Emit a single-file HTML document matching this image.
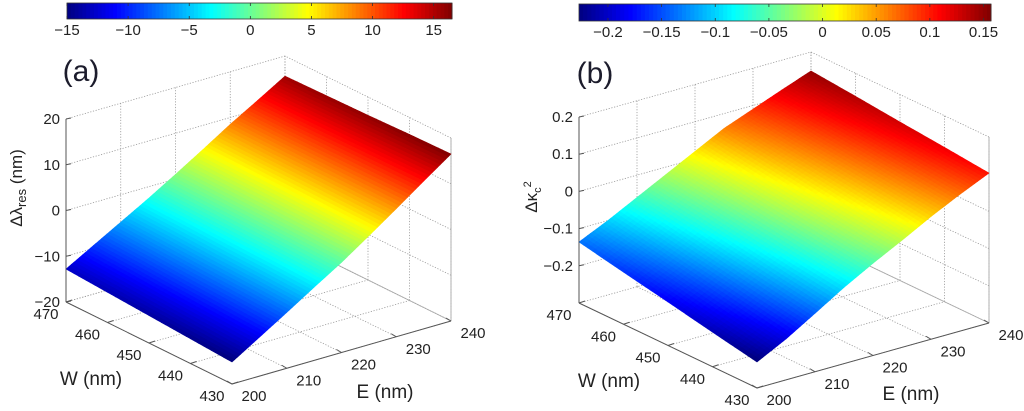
<!DOCTYPE html>
<html><head><meta charset="utf-8"><style>
html,body{margin:0;padding:0;background:#fff;width:1024px;height:411px;overflow:hidden}
svg{display:block;font-family:"Liberation Sans",sans-serif}
</style></head><body>
<svg id="fig" width="1024" height="411" viewBox="0 0 1024 411" xmlns="http://www.w3.org/2000/svg"></svg>
<script>
// ---- data ----
const eVals = [200,205,210,215,220,225,230,235,240];
const wVals = [430,440,450,460,470];
const zA = [
  [-15.2,-11.5,-7.8,-4.0,-0.3,3.8,8.0,12.3,16.5],
  [-14.6,-11.0,-7.3,-3.6,0.1,4.0,8.1,12.2,16.3],
  [-14.0,-10.5,-6.9,-3.3,0.4,4.3,8.2,12.1,16.0],
  [-13.4,-9.9,-6.4,-2.9,0.7,4.5,8.3,12.0,15.8],
  [-12.8,-9.4,-6.0,-2.6,1.0,4.7,8.5,12.0,15.6]
];
const zB = [
  [-0.230,-0.190,-0.143,-0.095,-0.052,-0.012,0.030,0.068,0.103],
  [-0.207,-0.168,-0.123,-0.079,-0.034,0.006,0.045,0.081,0.115],
  [-0.183,-0.145,-0.102,-0.060,-0.016,0.024,0.060,0.094,0.126],
  [-0.160,-0.122,-0.081,-0.040,0.002,0.042,0.075,0.107,0.138],
  [-0.136,-0.100,-0.060,-0.020,0.020,0.060,0.090,0.120,0.149]
];
const zTicksA = [-20,-10,0,10,20];
const zTicksB = [-0.2,-0.1,0,0.1,0.2];
const wTicks = [430,440,450,460,470];
const eTicks = [200,210,220,230,240];
const cbTicksA = [-15,-10,-5,0,5,10,15];
const cbTicksB = [-0.2,-0.15,-0.1,-0.05,0,0.05,0.1,0.15];

const NS = "http://www.w3.org/2000/svg";
const svg = document.getElementById('fig');
function mk(tag, attrs, parent){const el=document.createElementNS(NS,tag);for(const k in attrs)el.setAttribute(k,attrs[k]);(parent||svg).appendChild(el);return el;}
function jet(t){t=Math.max(0,Math.min(1,t));
  const r=Math.max(0,Math.min(1,1.5-Math.abs(4*t-3)));
  const g=Math.max(0,Math.min(1,1.5-Math.abs(4*t-2)));
  const b=Math.max(0,Math.min(1,1.5-Math.abs(4*t-1)));
  return `rgb(${Math.round(r*255)},${Math.round(g*255)},${Math.round(b*255)})`;}
function fmt(v){return String(+v.toFixed(3)).replace('-','\u2212');}

function panel(cfg){
  const g = mk('g',{});
  
  
  const P = (W,E,z)=>[cfg.P0[0]+(W-430)/40*cfg.Wv[0]+(E-200)/40*cfg.Ev[0],
                      cfg.P0[1]+(W-430)/40*cfg.Wv[1]+(E-200)/40*cfg.Ev[1]-(z-cfg.zmin)/(cfg.zmax-cfg.zmin)*cfg.Zh];
  const line=(a,b,st,nm)=>{const l=mk('line',{x1:a[0],y1:a[1],x2:b[0],y2:b[1],stroke:st.c,'stroke-width':st.w||0.8,'stroke-dasharray':st.d||'none'},g);return l;};
  const dot={c:'#999',d:'1.2,1.6',w:0.8};
  const zlo=cfg.zmin, zhi=cfg.zmax;
  cfg.zTicks.forEach(z=>line(P(470,200,z),P(470,240,z),dot,'grid-line'));
  eTicks.forEach(e=>line(P(470,e,zlo),P(470,e,zhi),dot,'grid-line'));
  cfg.zTicks.forEach(z=>line(P(430,240,z),P(470,240,z),dot,'grid-line'));
  wTicks.forEach(w=>line(P(w,240,zlo),P(w,240,zhi),dot,'grid-line'));
  eTicks.forEach(e=>line(P(430,e,zlo),P(470,e,zlo),dot,'grid-line'));
  wTicks.forEach(w=>line(P(w,200,zlo),P(w,240,zlo),dot,'grid-line'));
  line(P(430,240,zlo),P(430,240,zhi),{c:'#aaa',w:0.9},'box-edge');
  line(P(430,240,zlo),P(470,240,zlo),{c:'#aaa',w:0.9},'box-edge');
  const Z=cfg.z, S=10;
  const interp=(fi,fj)=>{const i=Math.min(Math.floor(fi),wVals.length-2),j=Math.min(Math.floor(fj),eVals.length-2);
    const a=fi-i,b=fj-j;return Z[i][j]*(1-a)*(1-b)+Z[i+1][j]*a*(1-b)+Z[i][j+1]*(1-a)*b+Z[i+1][j+1]*a*b;};
  const ni=(wVals.length-1)*S, nj=(eVals.length-1)*S;
  const wAt=fi=>wVals[0]+fi*(wVals[1]-wVals[0]), eAt=fj=>eVals[0]+fj*(eVals[1]-eVals[0]);
  for(let i=ni-1;i>=0;i--){for(let j=nj-1;j>=0;j--){
    const pts=[[i,j],[i+1,j],[i+1,j+1],[i,j+1]].map(([a,b])=>{const fi=a/S,fj=b/S;return [fi,fj,interp(fi,fj)];});
    const avg=pts.reduce((s,p)=>s+p[2],0)/4;
    const c=jet((avg-cfg.cmin)/(cfg.cmax-cfg.cmin));
    const poly=mk('polygon',{points:pts.map(p=>P(wAt(p[0]),eAt(p[1]),p[2]).join(',')).join(' '),fill:c,stroke:c,'stroke-width':0.6},g);
    
    
  }}
  line(P(470,200,zlo),P(470,200,zhi),{c:'#555',w:1},'z-axis');
  line(P(430,200,zlo),P(470,200,zlo),{c:'#555',w:1},'w-axis');
  line(P(430,200,zlo),P(430,240,zlo),{c:'#555',w:1},'e-axis');
  const txt=(x,y,s,anchor,nm,size)=>{const t=mk('text',{x:x,y:y,'font-size':size||15,'text-anchor':anchor||'middle',fill:'#222'},g);t.textContent=s;return t;};
  cfg.zTicks.forEach(z=>{const p=P(470,200,z);line(p,[p[0]+5,p[1]-1],{c:'#555',w:1},'z-tick');txt(p[0]-6,p[1]+5,fmt(z),'end','z-tick-label');});
  wTicks.forEach(w=>{const p=P(w,200,zlo);line(p,[p[0]+6,p[1]-2],{c:'#555',w:1},'w-tick');txt(p[0]-20,p[1]+17,String(w),'middle','w-tick-label');});
  eTicks.forEach(e=>{const p=P(430,e,zlo);line(p,[p[0]-5,p[1]-3],{c:'#555',w:1},'e-tick');txt(p[0]+22,p[1]+17,String(e),'middle','e-tick-label');});
  txt(cfg.wLab[0],cfg.wLab[1],'W (nm)','middle','w-axis-title',19);
  txt(cfg.eLab[0],cfg.eLab[1],'E (nm)','middle','e-axis-title',19);
  const pl=txt(cfg.pLab[0],cfg.pLab[1],cfg.panel,'middle','panel-label',30);pl.setAttribute('fill','#1c1c2c');
  const zt=mk('text',{transform:`translate(${cfg.zLab[0]},${cfg.zLab[1]}) rotate(-90)`,'font-size':17,'text-anchor':'middle',fill:'#222'},g);
  
  zt.innerHTML=cfg.zTitle;
  const cb=cfg.cb, n=100;
  for(let k=0;k<n;k++){const r=mk('rect',{x:cb.x+k*cb.w/n,y:cb.y,width:cb.w/n+0.5,height:cb.h,fill:jet((k+0.5)/n)},g);
    }
  const fr=mk('rect',{x:cb.x,y:cb.y,width:cb.w,height:cb.h,fill:'none',stroke:'#333','stroke-width':0.8},g);
  
  cfg.cbTicks.forEach(v=>{const x=cb.x+(v-cfg.cmin)/(cfg.cmax-cfg.cmin)*cb.w;
    line([x,cb.y],[x,cb.y+3],{c:'#333',w:0.8},'colorbar-tick');line([x,cb.y+cb.h],[x,cb.y+cb.h-3],{c:'#333',w:0.8},'colorbar-tick');
    txt(x,cb.y+cb.h+16,fmt(v),'middle','colorbar-tick-label');});
}
panel({name:'panel-a',panel:'(a)',P0:[232,384],Wv:[-166,-82],Ev:[219,-63],zmin:-20,zmax:20,Zh:183,z:zA,zTicks:zTicksA,
  cmin:-15,cmax:16.5,cbTicks:cbTicksA,cb:{x:67,y:3,w:385,h:16},wLab:[91,385],eLab:[385,398],pLab:[81,81],zLab:[22,188],
  zTitle:'\u0394\u03bb<tspan font-size="13" dy="4">res</tspan><tspan dy="-4"> (nm)</tspan>'});
panel({name:'panel-b',panel:'(b)',P0:[757,388],Wv:[-178,-85],Ev:[232,-65],zmin:-0.3,zmax:0.2,Zh:186,z:zB,zTicks:zTicksB,
  cmin:-0.227,cmax:0.157,cbTicks:cbTicksB,cb:{x:579,y:4,w:412,h:17},wLab:[609,387],eLab:[911,400],pLab:[595,83],zLab:[537,197],
  zTitle:'\u0394\u03ba<tspan font-size="11" dy="4">c</tspan><tspan font-size="11" dy="-10">2</tspan>'});
</script>
</body></html>
